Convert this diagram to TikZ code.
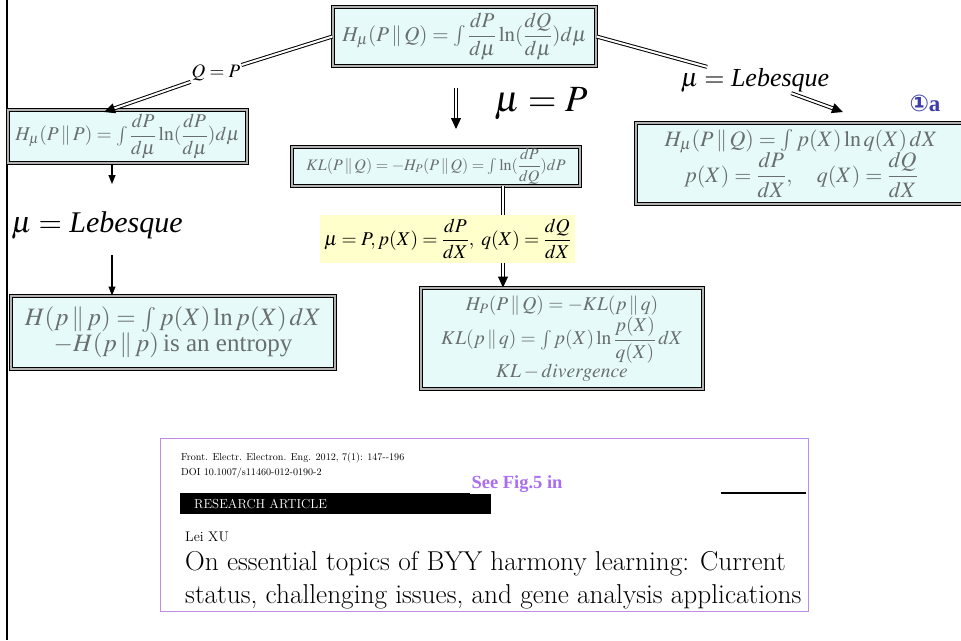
\documentclass[tikz,border=0pt]{standalone}
\usepackage{amsmath}
\usepackage{mathptmx}
\usepackage{fontspec}
\setmainfont{Liberation Serif}
\newfontfamily\lmfont{Latin Modern Roman}
\newfontfamily\symfont{DejaVu Sans}
\usetikzlibrary{arrows.meta, positioning}
\definecolor{cyanfill}{RGB}{230,250,250}
\definecolor{formula}{RGB}{105,110,110}
\definecolor{yellowfill}{RGB}{255,255,204}
\definecolor{paperline}{RGB}{190,140,230}
\definecolor{seefig}{RGB}{170,110,240}
\definecolor{markblue}{RGB}{60,60,170}

\tikzset{
  fbox/.style={draw=black, double=gray!60, double distance=1.6pt, line width=1pt,
    fill=cyanfill, text=formula, align=center, inner sep=0pt},
  dline/.style={draw=black, double=white, double distance=2pt, line width=1pt},
  tip/.style={-{Triangle[length=11pt,width=10pt]}},
  stip/.style={-{Triangle[length=9pt,width=7pt]}, line width=1.2pt},
  ptext/.style={anchor=west, inner sep=0pt},
}

\begin{document}
\begin{tikzpicture}[x=1pt, y=-1pt]
    \useasboundingbox (0,0) rectangle (961,640);
    % rule along the left edge
    \draw[line width=2pt] (7,0) -- (7,640);

    % formula boxes
    \node[fbox, minimum width=263pt, minimum height=59pt] (top) at (464.5,36.5)
        {\fontsize{21}{24}\selectfont $H_\mu(P\,\|\,Q)=\int\dfrac{dP}{d\mu}\ln(\dfrac{dQ}{d\mu})d\mu$};
    \node[fbox, minimum width=239pt, minimum height=53pt] (left) at (127.5,136.5)
        {\fontsize{19.5}{22}\selectfont $H_\mu(P\,\|\,P)=\int\dfrac{dP}{d\mu}\ln(\dfrac{dP}{d\mu})d\mu$};
    \node[fbox, inner ysep=1.5pt, minimum width=288pt, minimum height=37pt] (mid) at (436,166.5)
        {\fontsize{16}{18}\selectfont $KL(P\,\|\,Q)=-H_P(P\,\|\,Q)=\int\ln(\dfrac{dP}{dQ})dP$};
    \node[fbox, minimum width=330pt, minimum height=81pt] (right) at (801,163.5)
        {\fontsize{22}{24}\selectfont $H_\mu(P\,\|\,Q)=\int p(X)\ln q(X)\,dX$\\[-2pt]
         \fontsize{22}{24}\selectfont $p(X)=\dfrac{dP}{dX},\quad q(X)=\dfrac{dQ}{dX}$};
    \node[fbox, minimum width=282pt, minimum height=101pt] (botmid) at (562,338.5)
        {\fontsize{19.5}{22}\selectfont $H_P(P\,\|\,Q)=-KL(p\,\|\,q)$\\[1pt]
         \fontsize{19.5}{22}\selectfont $KL(p\,\|\,q)=\int p(X)\ln\dfrac{p(X)}{q(X)}\,dX$\\[0pt]
         \fontsize{19.5}{22}\selectfont $KL-divergence$};
    \node[fbox, minimum width=324pt, minimum height=73pt] (botleft) at (173,332.5)
        {\fontsize{25}{35}\selectfont $H(p\,\|\,p)=\int p(X)\ln p(X)\,dX$\\
         \fontsize{25}{35}\selectfont $-H(p\,\|\,p)$\,is an entropy};

    % labels on the connectors
    \node[inner sep=1pt] (qp) at (216,73) {\fontsize{19}{21}\selectfont $Q=P$};
    \node[inner sep=1pt] (lebR) at (755,80) {\fontsize{26}{28}\selectfont $\mu=$ \textit{Lebesque}};
    \node[inner sep=1pt] (mup) at (541,104) {\fontsize{37}{40}\selectfont $\mu=P$};
    \node[inner sep=1pt] (lebL) at (97,225) {\fontsize{30}{32}\selectfont $\mu=$ \textit{Lebesque}};
    \node[text=markblue, inner sep=0pt] (mark) at (925,103)
        {\fontsize{23}{24}\selectfont{\symfont\bfseries ①}\textbf{a}};

    % free ends of the connectors
    \coordinate (qptip) at (104,112);
    \coordinate (rtip) at (843,112);
    \coordinate (mpA) at (456,88);
    \coordinate (mpB) at (456,129);
    \coordinate (l1) at (112,184);
    \coordinate (l2) at (112,255);
    \coordinate (lx) at (112,0);
    \coordinate (mx) at (503,0);

    % connectors
    \draw[dline] (top.west) -- (qp);
    \draw[dline, tip] (qp) -- (qptip);
    \draw[dline] (top.east) -- (lebR);
    \draw[dline, tip] (lebR) -- (rtip);
    \draw[dline, tip] (mpA) -- (mpB);
    \draw[stip] (left.south -| lx) -- (l1);
    \draw[stip] (l2) -- (botleft.north -| lx);
    \draw[dline, tip] (mid.south -| mx) -- (botmid.north -| mx);

    % highlighted condition, drawn over the connector
    \node[fill=yellowfill, minimum width=255pt, minimum height=48pt, inner sep=0pt] (cond) at (447.5,239)
        {\fontsize{19.5}{22}\selectfont $\mu=P, p(X)=\dfrac{dP}{dX},\ q(X)=\dfrac{dQ}{dX}$};

    % cited paper
    \node[draw=paperline, line width=0.8pt, minimum width=648pt, minimum height=173pt] (paper) at (484,524.5) {};
    \node[ptext, font=\lmfont\fontsize{10.1}{12}\selectfont] (jrnl) at (181,458)
        {Front. Electr. Electron. Eng. 2012, 7(1): 147--196};
    \node[ptext, font=\lmfont\fontsize{10.1}{12}\selectfont] (doi) at (181,473)
        {DOI 10.1007/s11460-012-0190-2};
    \node[fill=black, minimum width=311pt, minimum height=21pt, inner sep=0pt, anchor=west] (bar) at (180,503.5) {};
    \node[ptext, text=white, font=\lmfont\fontsize{13}{14}\selectfont, right=14pt of bar.west] (art) {RESEARCH ARTICLE};
    \node[fill=white, text=seefig, inner sep=2pt] (see) at (517,484)
        {\fontsize{18.5}{20}\selectfont\bfseries See Fig.5 in};
    \draw[line width=1.4pt] (721,493) -- (806,493);
    \node[ptext, font=\lmfont\fontsize{14}{15}\selectfont] (author) at (185,537) {Lei XU};
    \node[anchor=west, align=left, inner sep=0pt, font=\lmfont\fontsize{27.3}{33}\selectfont] (title) at (185,580)
        {On essential topics of BYY harmony learning: Current\\status, challenging issues, and gene analysis applications};
\end{tikzpicture}
\end{document}
